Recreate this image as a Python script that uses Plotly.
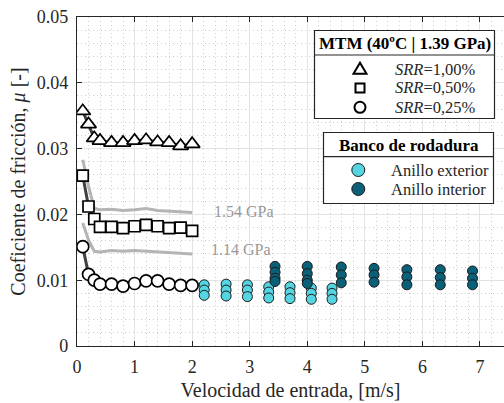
import plotly.graph_objects as go

# ---------------- data ----------------
v_mtm = [0.1, 0.2, 0.3, 0.4, 0.6, 0.8, 1.0, 1.2, 1.4, 1.6, 1.8, 2.0]
mu_srr100 = [0.0357, 0.0337, 0.0316, 0.0312, 0.0309, 0.0309, 0.0312, 0.0313, 0.0310, 0.0309, 0.0304, 0.0307]
mu_srr050 = [0.0259, 0.0212, 0.0193, 0.0181, 0.0181, 0.0179, 0.0182, 0.0184, 0.0182, 0.0179, 0.0180, 0.0175]
mu_srr025 = [0.0151, 0.0109, 0.0100, 0.0094, 0.0094, 0.0091, 0.0095, 0.0099, 0.0099, 0.0094, 0.0092, 0.0092]

mu_p154 = [0.0283, 0.0243, 0.0209, 0.0207, 0.0208, 0.0206, 0.0207, 0.0209, 0.0206, 0.0205, 0.0203, 0.0203]
mu_p114 = [0.0187, 0.0161, 0.0144, 0.0143, 0.0145, 0.0144, 0.0145, 0.0144, 0.0144, 0.0143, 0.0142, 0.0140]

v_ext = [2.21, 2.59, 2.96, 3.33, 3.70, 4.07, 4.43]
mu_ext = [
    [0.0093, 0.0085, 0.0077],
    [0.0094, 0.0085, 0.0076],
    [0.0093, 0.0085, 0.0075],
    [0.0090, 0.0082, 0.0073],
    [0.0090, 0.0081, 0.0072],
    [0.0088, 0.0080, 0.0071],
    [0.0088, 0.0080, 0.0071],
]
v_int = [3.44, 4.00, 4.59, 5.16, 5.73, 6.31, 6.87]
mu_int = [
    [0.0121, 0.0112, 0.0103, 0.0098],
    [0.0121, 0.0110, 0.0100, 0.0095],
    [0.0120, 0.0108, 0.0096],
    [0.0118, 0.0108, 0.0097],
    [0.0116, 0.0105, 0.0093],
    [0.0116, 0.0104, 0.0093],
    [0.0114, 0.0103, 0.0093],
]

x_ticks = [0, 1, 2, 3, 4, 5, 6, 7]
y_ticks = [0, 0.01, 0.02, 0.03, 0.04, 0.05]
y_ticklabels = ["0", "0.01", "0.02", "0.03", "0.04", "0.05"]

# ---------------- styling ----------------
FONT = "Liberation Serif, Times New Roman, serif"
TXT = "#262626"
C_EXT = "#55d5e2"
C_INT = "#0b6079"
DARK_LINE = "#404040"
GRAY_LINE = "#b4b4b4"

W, H = 504, 403
ML, MR, MT, MB = 77, 0, 17, 57
PW, PH = W - ML - MR, H - MT - MB


def pxx(x):
    return (x - ML) / PW


def pxy(y):
    return (H - MB - y) / PH


fig = go.Figure()

# grey model curves
for yv in (mu_p154, mu_p114):
    fig.add_trace(go.Scatter(x=v_mtm, y=yv, mode="lines",
                             line=dict(color=GRAY_LINE, width=3),
                             showlegend=False, hoverinfo="skip"))

# dark connecting lines and markers of MTM
for yv, sym, sz in ((mu_srr100, "triangle-up", 13.5),
                    (mu_srr050, "square", 11),
                    (mu_srr025, "circle", 12)):
    fig.add_trace(go.Scatter(x=v_mtm, y=yv, mode="lines",
                             line=dict(color=DARK_LINE, width=3),
                             showlegend=False, hoverinfo="skip"))
    fig.add_trace(go.Scatter(x=v_mtm, y=yv, mode="markers",
                             marker=dict(symbol=sym, size=sz, color="white",
                                         line=dict(color="black", width=1.7)),
                             showlegend=False))

# test-rig points
def flatten(vs, mus):
    xs, ys = [], []
    for v, col in zip(vs, mus):
        for m in col:
            xs.append(v)
            ys.append(m)
    return xs, ys

xe, ye = flatten(v_ext, mu_ext)
xi, yi = flatten(v_int, mu_int)
fig.add_trace(go.Scatter(x=xe, y=ye, mode="markers",
                         marker=dict(symbol="circle", size=10, color=C_EXT,
                                     line=dict(color="#1a1a1a", width=1)),
                         showlegend=False))
fig.add_trace(go.Scatter(x=xi, y=yi, mode="markers",
                         marker=dict(symbol="circle", size=10, color=C_INT,
                                     line=dict(color="#1a1a1a", width=1)),
                         showlegend=False))

shapes = []
annotations = []

# curve labels
annotations.append(dict(x=2.35, y=0.0205, xref="x", yref="y", text="1.54 GPa",
                        showarrow=False, xanchor="left", yanchor="middle",
                        font=dict(family=FONT, size=16, color="#999999")))
annotations.append(dict(x=2.29, y=0.0146, xref="x", yref="y", text="1.14 GPa",
                        showarrow=False, xanchor="left", yanchor="middle",
                        font=dict(family=FONT, size=16, color="#999999")))

# ---------- legend 1: MTM ----------
L1 = dict(l=314.5, r=494.5, t=30.5, b=118.5, sep=55, title_y=43.3,
          sym_x=360, txt_x=392.5, rows=[69.3, 88, 107.3])
# ---------- legend 2: Banco ----------
L2 = dict(l=323.5, r=493.5, t=132.5, b=203.5, sep=156.7, title_y=145,
          sym_x=358.3, txt_x=389.3, rows=[170, 189])

for L in (L1, L2):
    shapes.append(dict(type="rect", xref="paper", yref="paper",
                       x0=pxx(L["l"]), x1=pxx(L["r"]), y0=pxy(L["b"]), y1=pxy(L["t"]),
                       fillcolor="white", line=dict(color="#262626", width=1.2)))
    shapes.append(dict(type="line", xref="paper", yref="paper",
                       x0=pxx(L["l"]), x1=pxx(L["r"]), y0=pxy(L["sep"]), y1=pxy(L["sep"]),
                       line=dict(color="#262626", width=1.2)))

annotations.append(dict(x=pxx((L1["l"] + L1["r"]) / 2), y=pxy(L1["title_y"]),
                        xref="paper", yref="paper", showarrow=False,
                        text="<b>MTM (40ºC | 1.39 GPa)</b>", xanchor="center", yanchor="middle",
                        font=dict(family=FONT, size=17, color="black")))
annotations.append(dict(x=pxx((L2["l"] + L2["r"]) / 2), y=pxy(L2["title_y"]),
                        xref="paper", yref="paper", showarrow=False,
                        text="<b>Banco de rodadura</b>", xanchor="center", yanchor="middle",
                        font=dict(family=FONT, size=17, color="black")))

srr_labels = ["<i>SRR</i>=1,00%", "<i>SRR</i>=0,50%", "<i>SRR</i>=0,25%"]
for lab, yy in zip(srr_labels, L1["rows"]):
    annotations.append(dict(x=pxx(L1["txt_x"]), y=pxy(yy), xref="paper", yref="paper",
                            showarrow=False, text=lab, xanchor="left", yanchor="middle",
                            font=dict(family=FONT, size=16.5, color=TXT)))
for lab, yy in zip(["Anillo exterior", "Anillo interior"], L2["rows"]):
    annotations.append(dict(x=pxx(L2["txt_x"]), y=pxy(yy), xref="paper", yref="paper",
                            showarrow=False, text=lab, xanchor="left", yanchor="middle",
                            font=dict(family=FONT, size=16.5, color=TXT)))

# legend keys (pixel-sized shapes)
def key(**kw):
    d = dict(xref="paper", yref="paper", xsizemode="pixel", ysizemode="pixel")
    d.update(kw)
    shapes.append(d)

r0, r1, r2 = L1["rows"]
key(type="path", xanchor=pxx(L1["sym_x"]), yanchor=pxy(r0),
    path="M -6.5,-4.5 L 6.5,-4.5 L 0,6.5 Z", fillcolor="white",
    line=dict(color="black", width=2))
key(type="rect", xanchor=pxx(L1["sym_x"]), yanchor=pxy(r1),
    x0=-4.5, x1=4.5, y0=-4.5, y1=4.5, fillcolor="white",
    line=dict(color="black", width=2))
key(type="circle", xanchor=pxx(L1["sym_x"]), yanchor=pxy(r2),
    x0=-5.5, x1=5.5, y0=-5.5, y1=5.5, fillcolor="white",
    line=dict(color="black", width=2))
for col, yy in zip((C_EXT, C_INT), L2["rows"]):
    key(type="circle", xanchor=pxx(L2["sym_x"]), yanchor=pxy(yy),
        x0=-6.5, x1=6.5, y0=-6.5, y1=6.5, fillcolor=col,
        line=dict(color="#1a1a1a", width=1))

axis_common = dict(
    showline=True, linecolor="#262626", linewidth=1.2,
    ticks="inside", ticklen=5, tickcolor="#262626", tickwidth=1,
    showgrid=True, gridcolor="#e3e3e3", gridwidth=1,
    zeroline=False,
    tickfont=dict(family=FONT, size=18, color=TXT),
)

MINOR_GRID = "#cfcfcf"

fig.update_layout(
    width=W, height=H,
    font=dict(family=FONT, color=TXT),
    margin=dict(l=ML, r=MR, t=MT, b=MB, pad=0),
    paper_bgcolor="white", plot_bgcolor="white",
    showlegend=False,
    shapes=shapes, annotations=annotations,
    xaxis=dict(range=[0, 7.417], tickvals=x_ticks, mirror="ticks",
               minor=dict(dtick=0.2, tick0=0, showgrid=True, gridcolor=MINOR_GRID,
                          griddash="1px,3px", gridwidth=1, ticks=""),
               title=dict(text="Velocidad de entrada, [m/s]", standoff=7,
                          font=dict(family=FONT, size=20, color=TXT)),
               automargin=False, ticklabelstandoff=4, **axis_common),
    yaxis=dict(range=[0, 0.05], tickvals=y_ticks, ticktext=y_ticklabels, mirror=False,
               minor=dict(dtick=0.002, tick0=0, showgrid=True, gridcolor=MINOR_GRID,
                          griddash="1px,3px", gridwidth=1, ticks=""),
               title=dict(text="Coeficiente de fricción, <i>μ</i> [-]", standoff=5,
                          font=dict(family=FONT, size=20, color=TXT)),
               automargin=False, ticklabelstandoff=4, **axis_common),
)

fig.write_html("out.html", config={"displayModeBar": False},
               post_script="document.body.style.margin='0';document.body.style.overflow='hidden';")
